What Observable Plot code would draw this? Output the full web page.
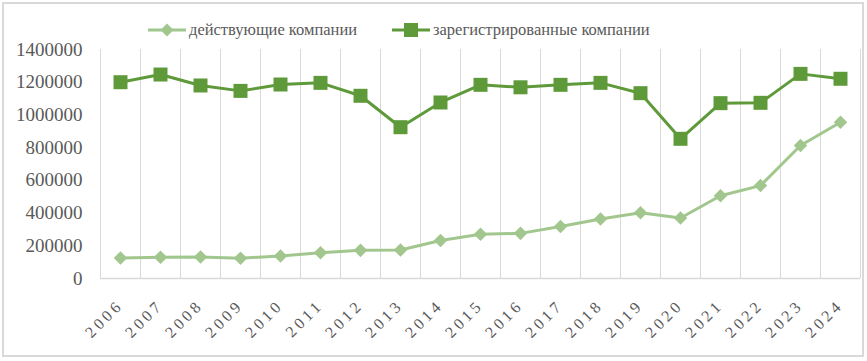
<!DOCTYPE html>
<html>
<head>
<meta charset="utf-8">
<script src="https://cdn.jsdelivr.net/npm/d3@7"></script>
<script src="https://cdn.jsdelivr.net/npm/@observablehq/plot@0.6"></script>
<style>
  html, body { margin: 0; padding: 0; background: #fff; }
  #wrap { position: relative; width: 867px; height: 361px; font-family: "Liberation Serif", serif; }
  #frame { position: absolute; left: 2px; top: 2px; width: 858px; height: 351px; border: 2px solid #d9d9d9; pointer-events: none; }
  #legend { position: absolute; left: 0; top: 18px; width: 867px; height: 24px; }
  .item { position: absolute; top: 0; height: 24px; display: flex; align-items: center; color: #595959; font-size: 16.5px; font-family: "Liberation Serif", serif; }
  .item svg { margin-right: 3px; }
  #chart { position: absolute; left: 0; top: 0; }
  g[aria-label="x-axis tick label"] text { letter-spacing: 3.5px; }
</style>
</head>
<body>
<div id="wrap">
  <div id="chart"></div>
  <div id="legend"></div>
  <div id="frame"></div>
</div>
<script>
const years = [2006, 2007, 2008, 2009, 2010, 2011, 2012, 2013, 2014, 2015, 2016, 2017, 2018, 2019, 2020, 2021, 2022, 2023, 2024];
const active = [125000, 130000, 132000, 124000, 138000, 158000, 172000, 174000, 232000, 270000, 276000, 318000, 364000, 402000, 370000, 506000, 568000, 813000, 955000];
const registered = [1200000, 1247000, 1180000, 1147000, 1186000, 1196000, 1117000, 925000, 1076000, 1184000, 1169000, 1184000, 1196000, 1133000, 854000, 1072000, 1074000, 1251000, 1221000];
const yTicks = [0, 200000, 400000, 600000, 800000, 1000000, 1200000, 1400000];
const seriesNames = ["действующие компании", "зарегистрированные компании"];
const colors = ["#a2c78e", "#5e9a3a"];

const rowsActive = years.map((y, i) => ({year: y, value: active[i]}));
const rowsReg = years.map((y, i) => ({year: y, value: registered[i]}));
const bounds = [years[0] - 0.5, ...years.map(y => y + 0.5)];

const chart = Plot.plot({
  width: 867,
  height: 361,
  marginTop: 49,
  marginBottom: 83,
  marginLeft: 100,
  marginRight: 7,
  style: { fontFamily: "Liberation Serif, serif", color: "#595959", background: "transparent" },
  x: { domain: [years[0] - 0.5, years[years.length - 1] + 0.5] },
  y: { domain: [0, 1400000] },
  marks: [
    Plot.ruleX(bounds, { y1: 0, y2: 1400000, stroke: "#d9d9d9", strokeWidth: 1 }),
    Plot.ruleY([0], { stroke: "#d9d9d9", strokeWidth: 1.5 }),
    Plot.axisY({ ticks: yTicks, tickFormat: d => String(d), tickSize: 0, tickPadding: 18, fontSize: 19, fill: "#595959", label: null }),
    Plot.axisX({ ticks: years, tickFormat: d => String(d), tickSize: 0, tickPadding: 24, tickRotate: -45, fontSize: 16, fill: "#595959", label: null, dx: 0 }),
    Plot.line(rowsActive, { x: "year", y: "value", stroke: colors[0], strokeWidth: 3 }),
    Plot.dot(rowsActive, { x: "year", y: "value", symbol: "diamond2", r: 6.1, fill: colors[0], stroke: "none" }),
    Plot.line(rowsReg, { x: "year", y: "value", stroke: colors[1], strokeWidth: 3 }),
    Plot.dot(rowsReg, { x: "year", y: "value", symbol: "square", r: 7.9, fill: colors[1], stroke: "none" })
  ]
});
document.getElementById("chart").appendChild(chart);

// legend
const legend = document.getElementById("legend");
const legendPos = [148, 392];
const markerSvg = [
  `<svg width="38" height="16"><line x1="0" y1="8" x2="38" y2="8" stroke="${colors[0]}" stroke-width="3"/><path d="M19,1.5 L25.5,8 L19,14.5 L12.5,8 Z" fill="${colors[0]}"/></svg>`,
  `<svg width="38" height="16"><line x1="0" y1="8" x2="38" y2="8" stroke="${colors[1]}" stroke-width="3"/><rect x="12" y="1" width="14" height="14" fill="${colors[1]}"/></svg>`
];
seriesNames.forEach((name, i) => {
  const d = document.createElement("div");
  d.className = "item";
  d.style.left = legendPos[i] + "px";
  d.innerHTML = markerSvg[i] + `<span>${name}</span>`;
  legend.appendChild(d);
});
</script>
</body>
</html>
